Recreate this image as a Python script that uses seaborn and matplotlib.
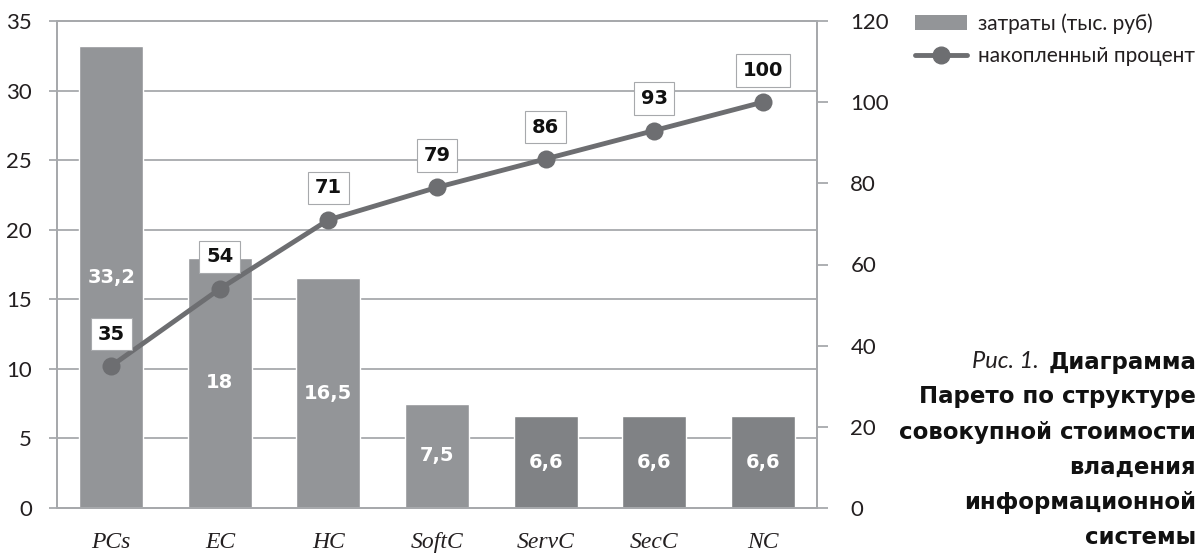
import matplotlib
matplotlib.use("Agg")
import matplotlib.pyplot as plt
import seaborn as sns
import pandas as pd
import numpy as np
from matplotlib.patches import Patch
from matplotlib.lines import Line2D

# данные диаграммы Парето
categories = ["PCs", "EC", "HC", "SoftC", "ServC", "SecC", "NC"]
costs = [33.2, 18, 16.5, 7.5, 6.6, 6.6, 6.6]
cumulative = [35, 54, 71, 79, 86, 93, 100]
left_ticks = [0, 5, 10, 15, 20, 25, 30, 35]
right_ticks = [0, 20, 40, 60, 80, 100, 120]
legend_labels = ["затраты (тыс. руб)", "накопленный процент"]
caption_prefix = "Рис. 1."
caption_lines = ["Диаграмма", "Парето по структуре", "совокупной стоимости",
                 "владения", "информационной", "системы"]

light_bar = "#939598"
dark_bar = "#808285"
line_color = "#6d6e71"
grid_color = "#a7a9ac"
text_color = "#231f20"
bar_colors = [light_bar] * 4 + [dark_bar] * 3
bold_font = ["DejaVu Sans"]

sns.set_style("white")
plt.rcParams["font.family"] = ["Lato", "DejaVu Sans"]

df = pd.DataFrame({"category": categories, "cost": costs, "cum": cumulative})

fig = plt.figure(figsize=(12.01, 5.53), dpi=100)
ax = fig.add_axes([57 / 1201, 45 / 553, 760 / 1201, 487 / 553])

sns.barplot(data=df, x="category", y="cost", hue="category", palette=bar_colors,
            width=0.59, legend=False, ax=ax, zorder=2, saturation=1)
ax.set_ylim(0, 35)
ax.set_xlim(-0.5, len(categories) - 0.5)
ax.set_yticks(left_ticks)
ax.yaxis.grid(True, color=grid_color, lw=1.3, zorder=0)
ax.set_axisbelow(True)
ax.set_xlabel("")
ax.set_ylabel("")
for s in ax.spines.values():
    s.set_color(grid_color)
    s.set_linewidth(1.3)
ax.tick_params(axis="y", direction="out", length=6, width=1.3, color=grid_color,
               pad=12, labelsize=16, labelcolor=text_color)

# подписи категорий курсивом и засечки на границах
ax.set_xticks(np.arange(len(categories)))
ax.set_xticklabels(categories, family=["Liberation Serif"], style="italic", fontsize=17)
ax.tick_params(axis="x", length=0, pad=17, labelcolor=text_color)
ax.set_xticks(np.arange(len(categories) + 1) - 0.5, minor=True)
ax.tick_params(axis="x", which="minor", direction="out", length=5, width=1.3,
               color=grid_color)

for i, v in enumerate(costs):
    ax.text(i, v / 2, f"{v:g}".replace(".", ","), ha="center", va="center",
            color="white", fontsize=14, fontweight="bold", family=bold_font)

ax2 = ax.twinx()
sns.lineplot(x=np.arange(len(categories)), y=cumulative, ax=ax2, color=line_color,
             lw=3.5, marker="o", markersize=13, markeredgewidth=0, sort=False)
ax2.set_ylim(0, 120)
ax2.set_yticks(right_ticks)
ax2.set_xlim(-0.5, len(categories) - 0.5)
for s in ax2.spines.values():
    s.set_color(grid_color)
    s.set_linewidth(1.3)
ax2.tick_params(axis="y", direction="out", length=8, width=1.3, color=grid_color,
                pad=16, labelsize=16, labelcolor=text_color)

for i, c in enumerate(cumulative):
    ax2.annotate(str(c), (i, c), xytext=(0, 23), textcoords="offset points",
                 ha="center", va="center", fontsize=14, fontweight="bold",
                 family=bold_font, color="#111111",
                 bbox=dict(boxstyle="square,pad=0.35", fc="white", ec=grid_color, lw=0.8))

handles = [Patch(facecolor=light_bar, edgecolor="none"),
           Line2D([], [], color=line_color, lw=3.5, marker="o", markersize=12)]
fig.legend(handles, legend_labels, loc="upper left", bbox_to_anchor=(915 / 1201, 0.976),
           frameon=False, fontsize=15, handlelength=2.5, labelspacing=0.6,
           handletextpad=0.5, borderpad=0, borderaxespad=0, labelcolor=text_color)

# подпись к рисунку, выровненная по правому краю
x_right = 1196 / 1201
texts = []
for j, line in enumerate(caption_lines):
    y = 1 - (362 + 35 * j) / 553
    texts.append(fig.text(x_right, y, line, ha="right", va="center", fontsize=16.5,
                          fontweight="bold", family=bold_font, color="#111111"))
fig.canvas.draw()
x0 = texts[0].get_window_extent().x0 / fig.bbox.width
fig.text(x0 - 9 / 1201, 1 - 362 / 553, caption_prefix, ha="right", va="center",
         fontsize=17, style="italic", color=text_color)

fig.savefig("out.png", dpi=100)
